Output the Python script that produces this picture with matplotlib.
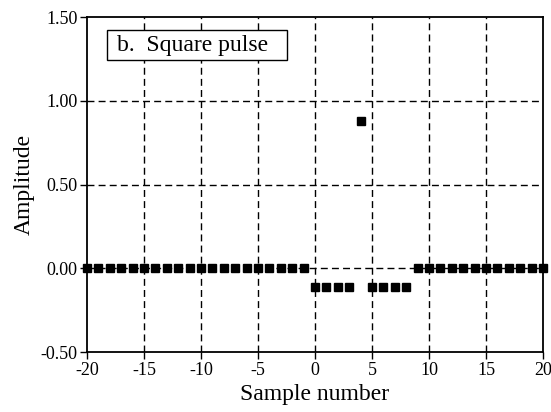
import numpy as np
import matplotlib
matplotlib.use("Agg")
import matplotlib.pyplot as plt
from matplotlib.patches import Rectangle

# sample values
sample_number = list(range(-20, 21))
amplitude = ([0.0] * 20
             + [-0.11, -0.11, -0.11, -0.11]
             + [0.88]
             + [-0.11, -0.11, -0.11, -0.11]
             + [0.0] * 12)
x_ticks = [-20, -15, -10, -5, 0, 5, 10, 15, 20]
y_ticks = [-0.5, 0.0, 0.5, 1.0, 1.5]
y_tick_labels = ["-0.50", "0.00", "0.50", "1.00", "1.50"]

plt.rcParams["font.family"] = ["Liberation Serif", "DejaVu Serif"]
plt.rcParams["axes.unicode_minus"] = False

fig = plt.figure(figsize=(5.51, 4.12), dpi=100)
ax = fig.add_axes([0.158, 0.1456, 0.8275, 0.8131])

# dashed grid
for xv in x_ticks[1:-1]:
    ax.axvline(xv, color="black", lw=1.0, ls=(0, (5, 3)), zorder=1)
for yv in y_ticks[1:-1]:
    ax.axhline(yv, color="black", lw=1.0, ls=(0, (5, 3)), zorder=1)

ax.plot(sample_number, amplitude, ls="none", marker="s", ms=6.3,
        color="black", zorder=3, clip_on=False)

ax.set_xlim(-20, 20)
ax.set_ylim(-0.5, 1.5)
ax.set_xticks(x_ticks)
ax.set_yticks(y_ticks)
ax.set_yticklabels(y_tick_labels)
ax.tick_params(direction="out", length=5, width=1, labelsize=13,
               colors="black", pad=2)

for sp in ax.spines.values():
    sp.set_linewidth(1.3)

ax.set_xlabel("Sample number", fontsize=17, labelpad=4)
ax.set_ylabel("Amplitude", fontsize=17, labelpad=4)

# label box in the top left corner
ax.add_patch(Rectangle((0.044, 0.872), 0.395, 0.089, transform=ax.transAxes,
                       fc="white", ec="black", lw=1.0, zorder=4))
ax.text(0.066, 0.916, "b.  Square pulse", fontsize=17, va="center",
        ha="left", transform=ax.transAxes, zorder=5)

fig.savefig("out.png", dpi=100)
